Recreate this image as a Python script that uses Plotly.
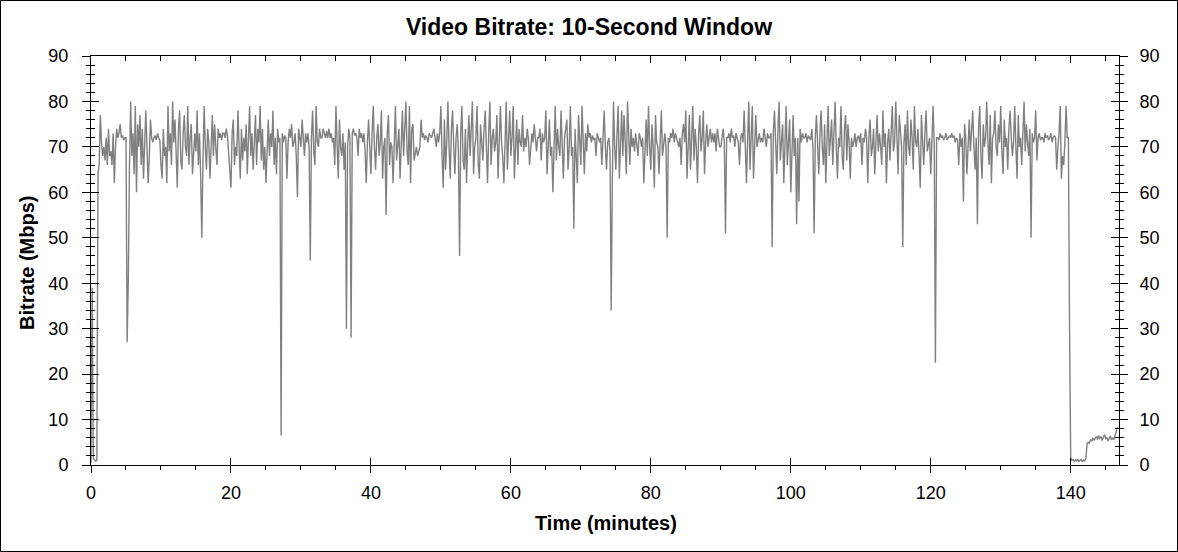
import plotly.graph_objects as go

# Bitrate (Mbps) read every 10 seconds: one row of six samples per minute
bitrate_000_019 = [
    0.5, 39, 1.5, 1, 0.8, 1,
    64, 66, 77, 71, 68, 70,
    67, 72, 66, 74, 68, 69,
    66, 73, 62, 70, 74, 72,
    73, 75, 72, 72.5, 71.5, 72,
    72, 27, 41, 66, 80, 68,
    73, 64, 79, 60, 75, 70,
    77, 66, 74, 63, 71, 78,
    70, 62, 68, 76, 72, 71,
    72, 72.5, 71.5, 73, 72, 71.5,
    66, 63, 74, 68, 70, 62,
    79, 69, 73, 66, 80, 71,
    76, 70, 61, 74, 78, 67,
    65, 73, 77, 70, 68, 79,
    66, 72, 75, 64, 70, 73,
    69, 78, 66, 73, 64, 50,
    67, 79, 70, 65, 74, 71,
    63, 72, 77, 68, 75, 70,
    66, 74, 72, 73, 71.5, 73,
    73, 72, 74, 72.5, 69, 66,
]
bitrate_020_039 = [
    61, 73, 76, 66, 70, 68,
    78, 70, 63, 74, 67, 72,
    69, 75, 64, 72, 79, 68,
    73, 65, 70, 77, 66, 74,
    71, 79, 67, 74, 65, 70,
    62, 72, 76, 68, 73, 70,
    78, 66, 72, 64, 74, 71,
    72, 6.5, 73, 71, 72.5, 72,
    63, 71, 74, 72, 75, 70,
    71, 73, 68, 59, 74, 72,
    70, 76, 72, 68, 73, 71,
    73, 70, 45, 72, 78, 69,
    66, 79, 71, 70, 74, 72,
    72, 74, 73, 72, 73.5, 72,
    74, 72, 73, 71, 72, 66,
    79, 68, 63, 76, 70, 68,
    73, 65, 71, 30, 70, 74,
    72, 28, 73, 74, 72.5, 73,
    72, 68, 74, 72, 73, 71,
    73, 69, 62, 71, 76, 70,
]
bitrate_040_059 = [
    64, 73, 79, 70, 65, 72,
    75, 68, 71, 78, 63, 70,
    72, 55, 73, 77, 66, 71,
    70, 62, 74, 79, 67, 72,
    74, 63, 70, 78, 68, 73,
    80, 69, 66, 79, 62, 74,
    75, 67, 69, 70, 68, 69,
    70, 76, 72, 73, 71.5, 72.5,
    72, 71, 73, 72.5, 72, 73,
    74, 72, 70, 73, 71, 73,
    79, 68, 61, 76, 65, 71,
    80, 70, 63, 74, 78, 70,
    64, 72, 75, 69, 46, 73,
    79, 67, 65, 74, 62, 71,
    77, 68, 73, 80, 64, 70,
    72, 79, 66, 63, 75, 71,
    67, 74, 78, 70, 62, 73,
    80, 66, 72, 74, 69, 71,
    77, 63, 70, 79, 71, 68,
    62, 74, 80, 65, 71, 78,
]
bitrate_060_079 = [
    68, 72, 79, 63, 70, 76,
    66, 74, 71, 70, 77, 69,
    72, 70, 74, 72, 66, 71,
    73, 71, 75, 72, 69, 72,
    72, 74, 67, 73, 71, 72,
    78, 64, 70, 76, 68, 70,
    60, 72, 79, 67, 74, 70,
    68, 78, 71, 63, 72, 74,
    76, 65, 70, 79, 68, 70,
    52, 74, 68, 62, 77, 71,
    66, 79, 70, 64, 73, 69,
    75, 72, 73, 71, 72.5, 71.5,
    72, 68, 73, 72, 71, 72,
    66, 72, 78, 70, 65, 71,
    72, 69, 34, 63, 80, 70,
    65, 73, 79, 63, 70, 78,
    68, 77, 71, 64, 80, 72,
    66, 74, 70, 72, 69, 73,
    71, 68, 73, 72, 70, 72,
    62, 71, 76, 68, 79, 70,
]
bitrate_080_099 = [
    65, 75, 70, 61, 77, 71,
    70, 64, 72, 78, 68, 71,
    73, 70, 50, 72, 71, 73,
    72, 74, 71, 73, 72, 71.5,
    70, 72, 66, 73, 75, 71,
    78, 63, 71, 77, 65, 72,
    79, 67, 74, 70, 62, 73,
    77, 69, 72, 78, 64, 71,
    75, 70, 72, 74, 71, 73,
    71, 73, 69, 74, 72, 70,
    70, 72, 74, 71, 51, 72,
    72, 73, 71, 74, 72, 72.5,
    70, 73, 72, 71, 66, 72,
    73, 71, 78, 68, 62, 72,
    80, 65, 71, 79, 63, 72,
    77, 70, 72, 73, 71, 72,
    71, 74, 72, 70, 73, 72,
    72, 73, 48, 73, 78, 70,
    64, 74, 80, 67, 71, 75,
    62, 72, 79, 66, 70, 76,
]
bitrate_100_119 = [
    60, 71, 77, 68, 72, 53,
    72, 58, 74, 71, 73, 72,
    72, 73, 71, 72.5, 72, 71.5,
    74, 70, 51, 72, 77, 69,
    64, 73, 78, 70, 66, 75,
    62, 71, 79, 68, 73, 76,
    66, 74, 80, 70, 63, 72,
    70, 79, 68, 65, 74, 77,
    67, 75, 71, 63, 72, 70,
    71, 73, 70, 72, 72.5, 71,
    73, 66, 72, 71, 74, 72,
    62, 72, 76, 68, 70, 74,
    64, 71, 77, 69, 73, 70,
    66, 78, 70, 73, 62, 71,
    74, 67, 72, 79, 69, 71,
    80, 70, 64, 77, 72, 70,
    48, 71, 75, 66, 78, 70,
    68, 76, 72, 65, 79, 71,
    70, 74, 68, 61, 77, 72,
    66, 73, 78, 69, 71, 72,
]
bitrate_120_139 = [
    64, 72, 79, 70, 22.5, 72,
    72, 71.5, 73, 72, 72.5, 71.5,
    72, 73, 71.5, 72, 72.5, 72,
    73, 72, 72.5, 71, 72, 71.5,
    66, 73, 70, 72, 58, 75,
    72, 64, 71, 76, 69, 73,
    78, 70, 65, 72, 53, 74,
    79, 68, 63, 75, 70, 72,
    80, 71, 66, 77, 62, 72,
    73, 78, 70, 68, 75, 71,
    79, 69, 64, 76, 70, 72,
    65, 74, 78, 72, 68, 71,
    79, 70, 63, 77, 70, 72,
    66, 73, 80, 69, 75, 71,
    68, 74, 50, 73, 71, 72,
    78, 67, 72, 73, 71.5, 72,
    72, 71, 73, 72, 72.5, 71.5,
    72, 73, 71, 72, 72.5, 72,
    65, 70, 73, 79, 63, 68,
    66, 71, 79, 72, 72, 30,
]
bitrate_140_146 = [
    1.5, 1.0, 1.2, 0.8, 1.1, 0.9,
    1.3, 0.8, 1.0, 1.2, 0.7, 1.1,
    0.9, 1.4, 4.6, 5.0, 4.8, 5.6,
    5.2, 6.0, 5.4, 5.8, 6.3, 5.6,
    6.5, 5.9, 6.2, 5.4, 6.1, 6.7,
    5.8, 6.0, 5.3, 5.9, 6.4, 5.5,
    6.0, 5.6, 6.9, 7.4, 8.4,
]
samples_per_minute = 6

x_range = [0, 146.9]
y_range = [0, 90]
x_major_ticks = [0, 20, 40, 60, 80, 100, 120, 140]
y_major_ticks = [0, 10, 20, 30, 40, 50, 60, 70, 80, 90]

title_text = "Video Bitrate: 10-Second Window"
x_title = "Time (minutes)"
y_title = "Bitrate (Mbps)"

bitrate = (bitrate_000_019 + bitrate_020_039 + bitrate_040_059 + bitrate_060_079
           + bitrate_080_099 + bitrate_100_119 + bitrate_120_139 + bitrate_140_146)
time_min = [i / samples_per_minute for i in range(len(bitrate))]

FONT = "Liberation Sans, Arial, sans-serif"
LINE_GRAY = "#808080"

fig = go.Figure()
fig.add_trace(go.Scatter(x=time_min, y=bitrate, mode="lines",
                         line=dict(color=LINE_GRAY, width=1.4), hoverinfo="skip",
                         showlegend=False, xaxis="x", yaxis="y"))
# helper traces so the overlay axes (inner/opposite ticks) are drawn
for xa, ya in [("x2", "y2"), ("x3", "y3"), ("x2", "y4")]:
    fig.add_trace(go.Scatter(x=[None], y=[None], mode="lines", showlegend=False,
                             hoverinfo="skip", xaxis=xa, yaxis=ya))

tickfont = dict(family=FONT, size=18, color="black")
common_x = dict(range=x_range, tickvals=x_major_ticks, showgrid=False, zeroline=False,
                showline=True, linecolor="black", linewidth=1, tickcolor="black",
                tickwidth=1, fixedrange=True)
common_y = dict(range=y_range, tickvals=y_major_ticks, showgrid=False, zeroline=False,
                showline=True, linecolor="black", linewidth=1, tickcolor="black",
                tickwidth=1, fixedrange=True)

fig.update_layout(
    width=1178, height=552,
    margin=dict(l=91, r=59, t=56, b=87),
    paper_bgcolor="white", plot_bgcolor="white",
    title=dict(text=title_text, x=0.5, xref="container", y=1 - 27 / 552,
               yref="container", xanchor="center", yanchor="middle",
               font=dict(family=FONT, size=23, color="black", weight="bold")),
    xaxis=dict(**common_x, side="bottom", ticks="outside", ticklen=7,
               tickfont=tickfont, ticklabelstandoff=4,
               minor=dict(ticks="outside", ticklen=4, dtick=5, tick0=0,
                          tickcolor="black", showgrid=False)),
    xaxis2=dict(**common_x, overlaying="x", side="bottom", ticks="inside", ticklen=7,
                showticklabels=False),
    xaxis3=dict(**common_x, overlaying="x", side="top", ticks="inside", ticklen=7,
                showticklabels=False,
                minor=dict(ticks="inside", ticklen=5, dtick=5, tick0=0,
                           tickcolor="black", showgrid=False)),
    yaxis=dict(**common_y, side="left", ticks="outside", ticklen=8,
               tickfont=tickfont, ticklabelstandoff=10,
               minor=dict(ticks="outside", ticklen=4, dtick=2, tick0=0,
                          tickcolor="black", showgrid=False)),
    yaxis2=dict(**common_y, overlaying="y", side="left", ticks="inside", ticklen=8,
                showticklabels=False,
                minor=dict(ticks="inside", ticklen=4, dtick=2, tick0=0,
                           tickcolor="black", showgrid=False)),
    yaxis3=dict(**common_y, overlaying="y", side="right", ticks="outside", ticklen=8,
                tickfont=tickfont, ticklabelstandoff=8,
                minor=dict(ticks="outside", ticklen=4, dtick=2, tick0=0,
                           tickcolor="black", showgrid=False)),
    yaxis4=dict(**common_y, overlaying="y", side="right", ticks="inside", ticklen=8,
                showticklabels=False,
                minor=dict(ticks="inside", ticklen=4, dtick=2, tick0=0,
                           tickcolor="black", showgrid=False)),
    showlegend=False,
)

# axis titles
fig.add_annotation(text=x_title, xref="paper", yref="paper",
                   x=(606 - 91) / 1028, y=(465 - 523) / 409,
                   xanchor="center", yanchor="middle", showarrow=False,
                   font=dict(family=FONT, size=20, color="black", weight="bold"))
fig.add_annotation(text=y_title, xref="paper", yref="paper",
                   x=(27 - 91) / 1028, y=(465 - 263) / 409, textangle=-90,
                   xanchor="center", yanchor="middle", showarrow=False,
                   font=dict(family=FONT, size=20, color="black", weight="bold"))

# outer frame around the whole image
fig.add_shape(type="rect", xref="paper", yref="paper",
              x0=(0.5 - 91) / 1028, x1=(1177.5 - 91) / 1028,
              y0=(465 - 551.5) / 409, y1=(465 - 0.5) / 409,
              line=dict(color="black", width=1), fillcolor="rgba(0,0,0,0)", layer="above")

# remove the default 8px page margin so the 1178x552 figure fills the window
fig.write_html("out.html", config={"displayModeBar": False},
               post_script="document.body.style.margin='0px';")
